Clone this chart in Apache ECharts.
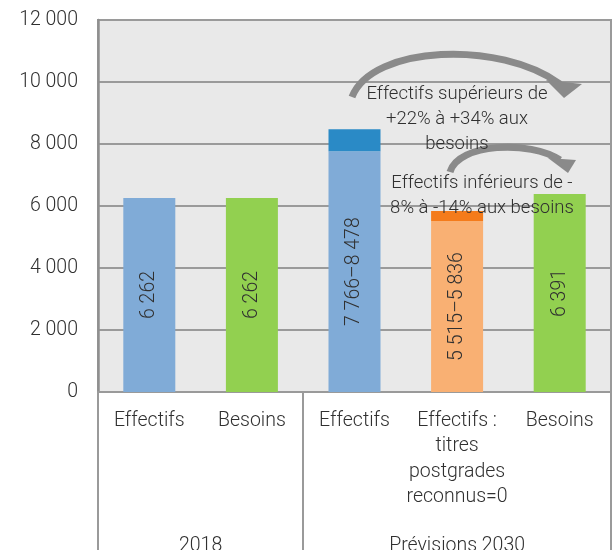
<!DOCTYPE html>
<html>
<head>
<meta charset="utf-8">
<script src="https://cdn.jsdelivr.net/npm/echarts@6/dist/echarts.min.js"></script>
<style>
  html, body { margin: 0; padding: 0; background: #ffffff; }
  #chart { width: 613px; height: 550px; }
</style>
</head>
<body>
<div id="chart"></div>
<script>
// Categories (bottom level) and their groups (second level)
const categories = ['Effectifs', 'Besoins', 'Effectifs', 'Effectifs :\ntitres\npostgrades\nreconnus=0', 'Besoins'];
const groups = [
  { name: '2018', from: 0, to: 1 },
  { name: 'Prévisions 2030', from: 2, to: 4 }
];
// Low and high estimate per bar (equal when a single value)
const lowValues = [6262, 6262, 7766, 5515, 6391];
const highValues = [6262, 6262, 8478, 5836, 6391];
// Bar colours: base segment and range segment
const baseColors = ['#80abd7', '#92d050', '#80abd7', '#f9b073', '#92d050'];
const rangeColors = ['#2a8ac6', '#2a8ac6', '#2a8ac6', '#f47b1b', '#f47b1b'];
// Y axis ticks
const yMin = 0, yMax = 12000, yStep = 2000;

const FONT = 'Roboto';
const TXT = '#303030';
const FS = 19.5;

function fmt(n) {
  return String(n).replace(/\B(?=(\d{3})+(?!\d))/g, '\u00a0');
}

const rangeValues = lowValues.map((v, i) => highValues[i] - v);

const chart = echarts.init(document.getElementById('chart'), null, { renderer: 'canvas' });

chart.setOption({
  animation: false,
  backgroundColor: '#ffffff',
  textStyle: { fontFamily: FONT },
  grid: {
    left: 98, right: 2, top: 20, bottom: 158,
    show: true, backgroundColor: '#e9e9e9', borderColor: '#9a9a9a', borderWidth: 2,
    containLabel: false, outerBoundsMode: 'none'
  },
  xAxis: {
    type: 'category',
    data: categories,
    axisLine: { show: true, lineStyle: { color: '#9a9a9a', width: 2 } },
    axisTick: {
      show: true, length: 160,
      interval: (i) => groups.some(g => g.from === i),
      lineStyle: { color: '#9a9a9a', width: 2 }
    },
    axisLabel: {
      interval: 0, margin: 16, color: TXT, fontSize: FS, fontWeight: 300,
      fontFamily: FONT, lineHeight: 25.5, verticalAlign: 'top'
    }
  },
  yAxis: {
    type: 'value', min: yMin, max: yMax, interval: yStep,
    axisLine: { show: true, lineStyle: { color: '#8f8f8f', width: 2.5 } },
    axisTick: { show: false },
    splitLine: { show: true, lineStyle: { color: '#9a9a9a', width: 2 } },
    axisLabel: {
      margin: 20, color: TXT, fontSize: FS, fontWeight: 300, fontFamily: FONT,
      formatter: (v) => fmt(v)
    }
  },
  series: [
    {
      name: 'base', type: 'bar', stack: 'total', barWidth: 52,
      data: lowValues.map((v, i) => ({ value: v, itemStyle: { color: baseColors[i] } })),
      label: {
        show: true, position: 'inside', rotate: 90, color: TXT,
        fontSize: FS, fontWeight: 300, fontFamily: FONT,
        formatter: (p) => {
          const i = p.dataIndex;
          return lowValues[i] === highValues[i]
            ? fmt(lowValues[i])
            : fmt(lowValues[i]) + '\u2013' + fmt(highValues[i]);
        }
      }
    },
    {
      name: 'range', type: 'bar', stack: 'total', barWidth: 52,
      data: rangeValues.map((v, i) => ({ value: v || null, itemStyle: { color: rangeColors[i] } }))
    }
  ]
});

// Group labels under the category labels, centred on their categories
const grpText = groups.map(g => {
  const x0 = chart.convertToPixel({ xAxisIndex: 0 }, g.from);
  const x1 = chart.convertToPixel({ xAxisIndex: 0 }, g.to);
  return {
    type: 'text', x: (x0 + x1) / 2, y: 546, z: 10,
    style: { text: g.name, fill: TXT, font: '300 ' + FS + 'px ' + FONT, align: 'center', verticalAlign: 'middle' }
  };
});

// Curved arrows with comments about the gap between staff and needs
function arrow(x0, y0, c1x, c1y, c2x, c2y, x1, y1, head) {
  return [
    {
      type: 'bezierCurve', z: 20,
      shape: { x1: x0, y1: y0, cpx1: c1x, cpy1: c1y, cpx2: c2x, cpy2: c2y, x2: x1, y2: y1 },
      style: { stroke: '#8a8a8a', lineWidth: 7, fill: null }
    },
    {
      type: 'polygon', z: 20,
      shape: { points: head },
      style: { fill: '#8a8a8a' }
    }
  ];
}

const notes = [
  { lines: ['Effectifs supérieurs de', '+22% à +34% aux', 'besoins'], x: 457, y: 94 },
  { lines: ['Effectifs inférieurs de -', '8% à -14% aux besoins'], x: 482, y: 183 }
];

const noteText = [];
notes.forEach(n => n.lines.forEach((t, k) => noteText.push({
  type: 'text', x: n.x, y: n.y + k * 25, z: 30,
  style: { text: t, fill: TXT, font: '300 18.5px ' + FONT, align: 'center', verticalAlign: 'middle' }
})));

chart.setOption({
  graphic: [
    ...grpText,
    ...arrow(352, 97, 372, 45, 500, 40, 560, 84, [[546, 80], [582, 84], [564, 98]]),
    ...arrow(450, 172, 458, 143, 530, 140, 560, 160, [[548, 158], [576, 160], [568, 173]]),
    ...noteText
  ]
});
</script>
</body>
</html>
